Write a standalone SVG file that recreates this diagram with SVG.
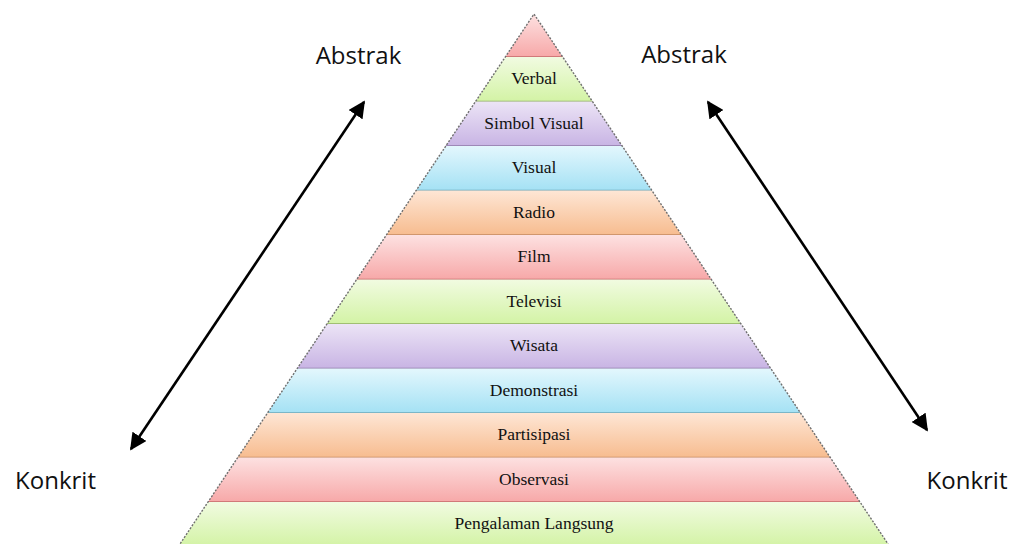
<svg xmlns="http://www.w3.org/2000/svg" width="1015" height="544" viewBox="0 0 1015 544">
  <style>
    .band-label { font-family: "Liberation Serif", "Times New Roman", serif; font-size: 17.5px; fill: #111; stroke: none; text-anchor: middle; }
    .side-label { font-family: "Open Sans", "Liberation Sans", sans-serif; font-size: 24px; fill: #111; stroke: none; text-anchor: middle; }
    .red polygon { fill: url(#gRed); }
    .red line { stroke: #c46a6a; }
    .green polygon { fill: url(#gGreen); }
    .green line { stroke: #8fae62; }
    .purple polygon { fill: url(#gPurple); }
    .purple line { stroke: #8f7aa8; }
    .blue polygon { fill: url(#gBlue); }
    .blue line { stroke: #6ea7b8; }
    .orange polygon { fill: url(#gOrange); }
    .orange line { stroke: #c48a60; }
    .band polygon { stroke: none; }
    .band line { stroke-width: 1.6; }
    .outline { fill: none; stroke: #6f6f6f; stroke-width: 1.4; stroke-dasharray: 2 1.5; }
    .arrow { stroke: #000; stroke-width: 2.6; fill: none; marker-start: url(#head); marker-end: url(#head); }
  </style>
  <defs>
    <linearGradient id="gRed" x1="0" y1="0" x2="0" y2="1">
      <stop offset="0" stop-color="#fde1e1"/>
      <stop offset="1" stop-color="#f7a8a8"/>
    </linearGradient>
    <linearGradient id="gGreen" x1="0" y1="0" x2="0" y2="1">
      <stop offset="0" stop-color="#f1fbe1"/>
      <stop offset="1" stop-color="#d3f3a5"/>
    </linearGradient>
    <linearGradient id="gPurple" x1="0" y1="0" x2="0" y2="1">
      <stop offset="0" stop-color="#ece4f6"/>
      <stop offset="1" stop-color="#c8b4e4"/>
    </linearGradient>
    <linearGradient id="gBlue" x1="0" y1="0" x2="0" y2="1">
      <stop offset="0" stop-color="#e3f7fd"/>
      <stop offset="1" stop-color="#a4e1f4"/>
    </linearGradient>
    <linearGradient id="gOrange" x1="0" y1="0" x2="0" y2="1">
      <stop offset="0" stop-color="#fee6d5"/>
      <stop offset="1" stop-color="#f7bc8f"/>
    </linearGradient>
    <marker id="head" viewBox="0 0 10 10" refX="9" refY="5" markerWidth="6.5" markerHeight="6.5" markerUnits="strokeWidth" orient="auto-start-reverse">
      <path d="M0,0 L10,5 L0,10 Z" fill="#000"/>
    </marker>
  </defs>

  <!-- pyramid bands, top to bottom -->
  <g id="apex" class="band red">
    <polygon points="534,14 562.7,57 505.3,57"/>
    <line x1="505.3" y1="57" x2="562.7" y2="57"/>
  </g>
  <g id="verbal" class="band green">
    <polygon points="505.3,57 562.7,57 592.45,101.5 475.55,101.5"/>
    <line x1="475.55" y1="101.5" x2="592.45" y2="101.5"/>
    <text class="band-label" x="534" y="84">Verbal</text>
  </g>
  <g id="simbol-visual" class="band purple">
    <polygon points="475.55,101.5 592.45,101.5 622.2,146 445.8,146"/>
    <line x1="445.8" y1="146" x2="622.2" y2="146"/>
    <text class="band-label" x="534" y="129">Simbol Visual</text>
  </g>
  <g id="visual" class="band blue">
    <polygon points="445.8,146 622.2,146 651.9,190.5 416.1,190.5"/>
    <line x1="416.1" y1="190.5" x2="651.9" y2="190.5"/>
    <text class="band-label" x="534" y="173">Visual</text>
  </g>
  <g id="radio" class="band orange">
    <polygon points="416.1,190.5 651.9,190.5 681.6,235 386.4,235"/>
    <line x1="386.4" y1="235" x2="681.6" y2="235"/>
    <text class="band-label" x="534" y="217.5">Radio</text>
  </g>
  <g id="film" class="band red">
    <polygon points="386.4,235 681.6,235 711.35,279.5 356.65,279.5"/>
    <line x1="356.65" y1="279.5" x2="711.35" y2="279.5"/>
    <text class="band-label" x="534" y="262">Film</text>
  </g>
  <g id="televisi" class="band green">
    <polygon points="356.65,279.5 711.35,279.5 741.1,324 326.9,324"/>
    <line x1="326.9" y1="324" x2="741.1" y2="324"/>
    <text class="band-label" x="534" y="306.5">Televisi</text>
  </g>
  <g id="wisata" class="band purple">
    <polygon points="326.9,324 741.1,324 770.8,368.5 297.2,368.5"/>
    <line x1="297.2" y1="368.5" x2="770.8" y2="368.5"/>
    <text class="band-label" x="534" y="351">Wisata</text>
  </g>
  <g id="demonstrasi" class="band blue">
    <polygon points="297.2,368.5 770.8,368.5 800.5,413 267.5,413"/>
    <line x1="267.5" y1="413" x2="800.5" y2="413"/>
    <text class="band-label" x="534" y="395.5">Demonstrasi</text>
  </g>
  <g id="partisipasi" class="band orange">
    <polygon points="267.5,413 800.5,413 830.3,457.5 237.7,457.5"/>
    <line x1="237.7" y1="457.5" x2="830.3" y2="457.5"/>
    <text class="band-label" x="534" y="440">Partisipasi</text>
  </g>
  <g id="observasi" class="band red">
    <polygon points="237.7,457.5 830.3,457.5 860,502 208,502"/>
    <line x1="208" y1="502" x2="860" y2="502"/>
    <text class="band-label" x="534" y="484.5">Observasi</text>
  </g>
  <g id="pengalaman-langsung" class="band green">
    <polygon points="208,502 860,502 889.7,546.5 178.3,546.5"/>
    <text class="band-label" x="534" y="529">Pengalaman Langsung</text>
  </g>

  <!-- dotted pyramid sides -->
  <polyline class="outline" points="178.3,546.5 534,14 889.7,546.5"/>

  <!-- side labels -->
  <g id="abstrak-left"><text class="side-label" x="358.5" y="64">Abstrak</text></g>
  <g id="abstrak-right"><text class="side-label" x="684" y="63">Abstrak</text></g>
  <g id="konkrit-left"><text class="side-label" x="55.5" y="489">Konkrit</text></g>
  <g id="konkrit-right"><text class="side-label" x="967" y="489">Konkrit</text></g>

  <!-- double-headed arrows -->
  <g id="connectors">
    <line class="arrow" x1="131" y1="449" x2="364" y2="102"/>
    <line class="arrow" x1="927" y1="430" x2="708" y2="102"/>
  </g>
</svg>
